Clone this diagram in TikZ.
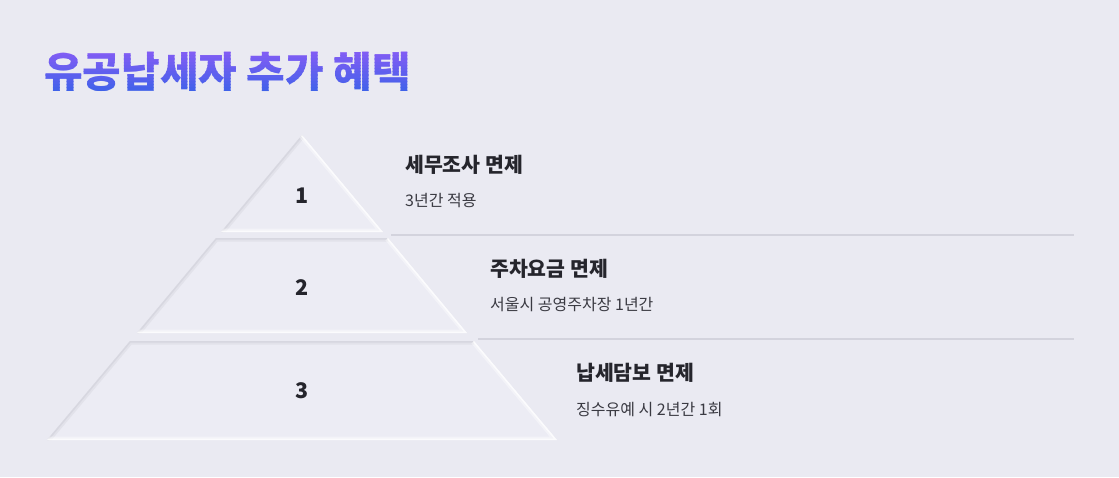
\documentclass[tikz,border=0pt]{standalone}
\usepackage{fontspec}
\setmainfont{Noto Sans CJK KR}
\definecolor{bg}{HTML}{EAEAF2}
\definecolor{layerfill}{HTML}{ECECF4}
\definecolor{edgegray}{HTML}{D6D6DF}
\definecolor{sepgray}{HTML}{D3D3DD}
\definecolor{titletop}{HTML}{8B5CF6}
\definecolor{titlebot}{HTML}{3A62E8}
\definecolor{headc}{HTML}{25252C}
\definecolor{subc}{HTML}{3A3A42}
\tikzset{
  layer/.style={fill=layerfill},
  hiwide/.style={draw=white, line width=7pt, opacity=0.4, line join=round},
  hinarrow/.style={draw=white, line width=3pt, opacity=0.75, line join=round},
  shwide/.style={draw=edgegray, line width=7pt, opacity=0.45, line join=round},
  shnarrow/.style={draw=edgegray, line width=3pt, opacity=0.9, line join=round},
  numtext/.style={inner sep=0pt, text=headc, font=\bfseries\fontsize{21.5}{24}\selectfont},
  headtext/.style={anchor=west, inner sep=0pt, text=headc, font=\bfseries\fontsize{20.5}{24}\selectfont},
  subtext/.style={anchor=west, inner sep=0pt, text=subc, font=\fontsize{16}{18}\selectfont},
  sepline/.style={draw=sepgray, line width=2pt},
  titletext/.style={anchor=west, inner sep=0pt, font=\bfseries\fontsize{42}{50}\selectfont}
}
\begin{document}
\begin{tikzpicture}[x=1pt,y=-1pt]
\fill[bg] (0,0) rectangle (1119,477);
\useasboundingbox (0,0) rectangle (1119,477);

% title with vertical gradient, drawn in thin horizontal bands
\foreach \i in {0,...,15}{
  \pgfmathsetmacro{\pct}{100-\i*100/15}
  \begin{scope}
    \clip (30,{46+\i*3.2}) rectangle (440,{46+(\i+1)*3.2+0.3});
    \node[titletext, text=titletop!\pct!titlebot] (title-\i) at (44,72) {유공납세자 추가 혜택};
  \end{scope}
}
\begin{scope}
  \clip (30,0) rectangle (440,46.2);
  \node[titletext, text=titletop] (title-top) at (44,72) {유공납세자 추가 혜택};
\end{scope}
\begin{scope}
  \clip (30,97) rectangle (440,120);
  \node[titletext, text=titlebot] (title-bot) at (44,72) {유공납세자 추가 혜택};
\end{scope}

% pyramid layer 1
\coordinate (a1) at (302,135);
\coordinate (b1) at (383,232);
\coordinate (c1) at (221,232);
\path[layer] (a1) -- (b1) -- (c1) -- cycle;
\begin{scope}
  \clip (a1) -- (b1) -- (c1) -- cycle;
  \draw[shwide] (c1) -- (a1);
  \draw[shnarrow] (c1) -- (a1);
  \draw[hiwide] (a1) -- (b1) -- (c1);
  \draw[hinarrow] (a1) -- (b1) -- (c1);
\end{scope}

% pyramid layer 2
\coordinate (a2) at (216,238);
\coordinate (b2) at (388,238);
\coordinate (c2) at (467,333);
\coordinate (d2) at (137,333);
\path[layer] (a2) -- (b2) -- (c2) -- (d2) -- cycle;
\begin{scope}
  \clip (a2) -- (b2) -- (c2) -- (d2) -- cycle;
  \draw[shwide] (d2) -- (a2) -- (b2);
  \draw[shnarrow] (d2) -- (a2) -- (b2);
  \draw[hiwide] (b2) -- (c2) -- (d2);
  \draw[hinarrow] (b2) -- (c2) -- (d2);
\end{scope}

% pyramid layer 3
\coordinate (a3) at (130,341);
\coordinate (b3) at (474,341);
\coordinate (c3) at (557,440);
\coordinate (d3) at (47,440);
\path[layer] (a3) -- (b3) -- (c3) -- (d3) -- cycle;
\begin{scope}
  \clip (a3) -- (b3) -- (c3) -- (d3) -- cycle;
  \draw[shwide] (d3) -- (a3) -- (b3);
  \draw[shnarrow] (d3) -- (a3) -- (b3);
  \draw[hiwide] (b3) -- (c3) -- (d3);
  \draw[hinarrow] (b3) -- (c3) -- (d3);
\end{scope}

% numbers
\node[numtext] (n1) at (302,196) {1};
\node[numtext] (n2) at (302,288) {2};
\node[numtext] (n3) at (302,391) {3};

% separators
\coordinate (s1a) at (391,235);
\coordinate (s1b) at (1074,235);
\coordinate (s2a) at (478,339);
\coordinate (s2b) at (1074,339);
\draw[sepline] (s1a) -- (s1b);
\draw[sepline] (s2a) -- (s2b);

% labels
\node[headtext] (h1) at (405,165) {세무조사 면제};
\node[subtext] (t1) at (405,201) {3년간 적용};
\node[headtext] (h2) at (490,269) {주차요금 면제};
\node[subtext] (t2) at (490,305) {서울시 공영주차장 1년간};
\node[headtext] (h3) at (576,373) {납세담보 면제};
\node[subtext] (t3) at (576,410) {징수유예 시 2년간 1회};
\end{tikzpicture}
\end{document}
